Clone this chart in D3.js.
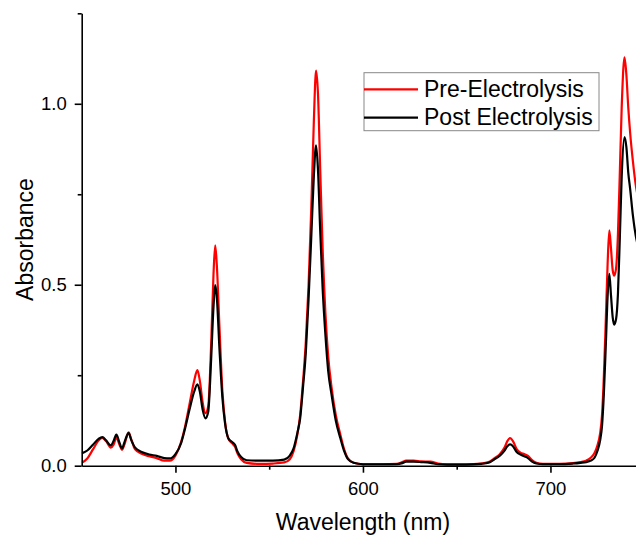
<!DOCTYPE html>
<html>
<head>
<meta charset="utf-8">
<script src="https://cdn.jsdelivr.net/npm/d3@7"></script>
<style>
  html, body { margin: 0; padding: 0; background: #fff; }
  svg { display: block; }
  text { font-family: "Liberation Sans", Arial, sans-serif; fill: #000; }
</style>
</head>
<body>
<svg id="chart" width="636" height="537"></svg>
<script>
const wavelength = [450,453,456,459,461,463,465.5,467,468.5,470,471.5,473,475,476.5,478.5,482,486,490,494,497,500,503,505,507.5,510,511.7,513,514.5,516,517.5,519,520.3,521.2,522,523.5,525,526.5,528.2,530,531.8,533,535,538,545,552,558,561,563,565,566.5,568,569.5,571,572.5,573.8,575,576,577.2,578.5,580,581.5,583.3,585.5,588,590,592,595,600,610,618,621,623,627,631,636,640,645,655,663,667,670,673,675.5,677,678.5,680,682,684,686,688,690,692.5,696,705,712,716,719,721.5,723.5,725,726.5,727.5,728.5,729.5,730.5,731.4,732.3,733.2,734,735,736,737,738,739.5,740.5,741.5,742.5,744,745.5,747,750];
const preElectrolysis = [0.008,0.02,0.045,0.070,0.077,0.068,0.050,0.058,0.078,0.060,0.044,0.062,0.092,0.072,0.045,0.033,0.026,0.021,0.014,0.014,0.028,0.065,0.105,0.170,0.235,0.264,0.235,0.175,0.145,0.165,0.330,0.530,0.609,0.560,0.380,0.210,0.120,0.075,0.063,0.052,0.035,0.018,0.008,0.005,0.006,0.009,0.018,0.040,0.085,0.140,0.230,0.340,0.500,0.720,0.950,1.092,1.030,0.820,0.600,0.420,0.300,0.215,0.140,0.085,0.045,0.020,0.008,0.004,0.004,0.005,0.010,0.014,0.014,0.012,0.011,0.006,0.004,0.004,0.006,0.010,0.020,0.032,0.050,0.068,0.076,0.068,0.046,0.036,0.032,0.027,0.016,0.008,0.005,0.005,0.007,0.010,0.014,0.022,0.035,0.055,0.090,0.140,0.250,0.400,0.560,0.650,0.600,0.540,0.525,0.545,0.640,0.810,0.990,1.128,1.080,0.990,0.920,0.840,0.775,0.735,0.680];
const postElectrolysis = [0.034,0.042,0.058,0.074,0.079,0.070,0.056,0.068,0.086,0.066,0.048,0.068,0.090,0.070,0.050,0.038,0.031,0.027,0.021,0.020,0.032,0.062,0.100,0.155,0.205,0.225,0.205,0.155,0.131,0.150,0.290,0.440,0.499,0.470,0.320,0.190,0.115,0.076,0.066,0.057,0.040,0.024,0.015,0.014,0.014,0.017,0.028,0.048,0.090,0.130,0.215,0.310,0.460,0.640,0.800,0.885,0.820,0.650,0.490,0.360,0.260,0.195,0.125,0.075,0.040,0.018,0.008,0.004,0.004,0.004,0.007,0.011,0.011,0.010,0.008,0.004,0.003,0.003,0.005,0.008,0.017,0.028,0.042,0.054,0.059,0.054,0.038,0.031,0.026,0.021,0.012,0.006,0.004,0.004,0.006,0.008,0.010,0.014,0.022,0.040,0.070,0.110,0.200,0.330,0.470,0.530,0.470,0.410,0.390,0.405,0.475,0.630,0.800,0.908,0.880,0.810,0.765,0.690,0.635,0.600,0.550];
const xMajorTicks = [500,600,700];
const xMinorTicks = [550,650,750];
const yMajorTicks = [0,0.5,1.0];
const yMinorTicks = [0.25,0.75,1.25];
const seriesNames = ["Pre-Electrolysis","Post Electrolysis"];
const seriesColors = ["#ff0000","#000000"];

const svg = d3.select("#chart");
const mLeft = 81.7, mRight = 644.2, mTop = 13.3, mBottom = 465.7;
const x = d3.scaleLinear().domain([450,750]).range([mLeft,mRight]);
const y = d3.scaleLinear().domain([0,1.25]).range([mBottom,mTop]);

svg.append("defs").append("clipPath").attr("id","clip")
  .append("rect").attr("x",mLeft).attr("y",0).attr("width",636-mLeft).attr("height",mBottom+1);

const line = d3.line().x(d=>x(d[0])).y(d=>y(d[1])).curve(d3.curveMonotoneX);
const series = [preElectrolysis, postElectrolysis];
series.forEach((vals,i)=>{
  svg.append("path")
    .datum(wavelength.map((w,j)=>[w,vals[j]]))
    .attr("clip-path","url(#clip)")
    .attr("fill","none")
    .attr("stroke",seriesColors[i])
    .attr("stroke-width",2.2)
    .attr("stroke-linejoin","round")
    .attr("d",line);
});

// X axis
svg.append("g").attr("transform",`translate(0,${mBottom})`)
  .call(d3.axisBottom(x).tickValues(xMajorTicks).tickSize(7).tickSizeOuter(0).tickPadding(9).tickFormat(d3.format("d")));
svg.append("g").attr("transform",`translate(0,${mBottom})`)
  .call(d3.axisBottom(x).tickValues(xMinorTicks).tickSize(4).tickSizeOuter(0).tickFormat(""))
  .select(".domain").remove();
// Y axis
svg.append("g").attr("transform",`translate(${mLeft},0)`)
  .call(d3.axisLeft(y).tickValues(yMajorTicks).tickSize(7).tickSizeOuter(0).tickPadding(8).tickFormat(d3.format(".1f")));
svg.append("g").attr("transform",`translate(${mLeft},0)`)
  .call(d3.axisLeft(y).tickValues(yMinorTicks).tickSize(4).tickSizeOuter(0).tickFormat(""))
  .select(".domain").remove();

svg.selectAll(".domain").attr("stroke","#000").attr("stroke-width",1.6);
svg.selectAll(".tick line").attr("stroke","#000").attr("stroke-width",1.6);
svg.selectAll(".tick text").style("font-family","'Liberation Sans', Arial, sans-serif").style("font-size","18.5px").attr("fill","#000");

// Axis titles
svg.append("text").attr("x",(mLeft+mRight)/2).attr("y",530).attr("text-anchor","middle")
  .style("font-size","23px").text("Wavelength (nm)");
svg.append("text").attr("transform",`translate(33,${(mTop+mBottom)/2}) rotate(-90)`).attr("text-anchor","middle")
  .style("font-size","23px").text("Absorbance");

// Legend
const lg = svg.append("g");
lg.append("rect").attr("x",364).attr("y",72.7).attr("width",235).attr("height",58)
  .attr("fill","#fff").attr("stroke","#888").attr("stroke-width",1);
const legY = [89.3,117.7], legTextY = [97,125];
seriesNames.forEach((n,i)=>{
  lg.append("line").attr("x1",364).attr("x2",418).attr("y1",legY[i]).attr("y2",legY[i])
    .attr("stroke",seriesColors[i]).attr("stroke-width",2.2);
  lg.append("text").attr("x",424).attr("y",legTextY[i]).style("font-size","23px").text(n);
});
</script>
</body>
</html>
